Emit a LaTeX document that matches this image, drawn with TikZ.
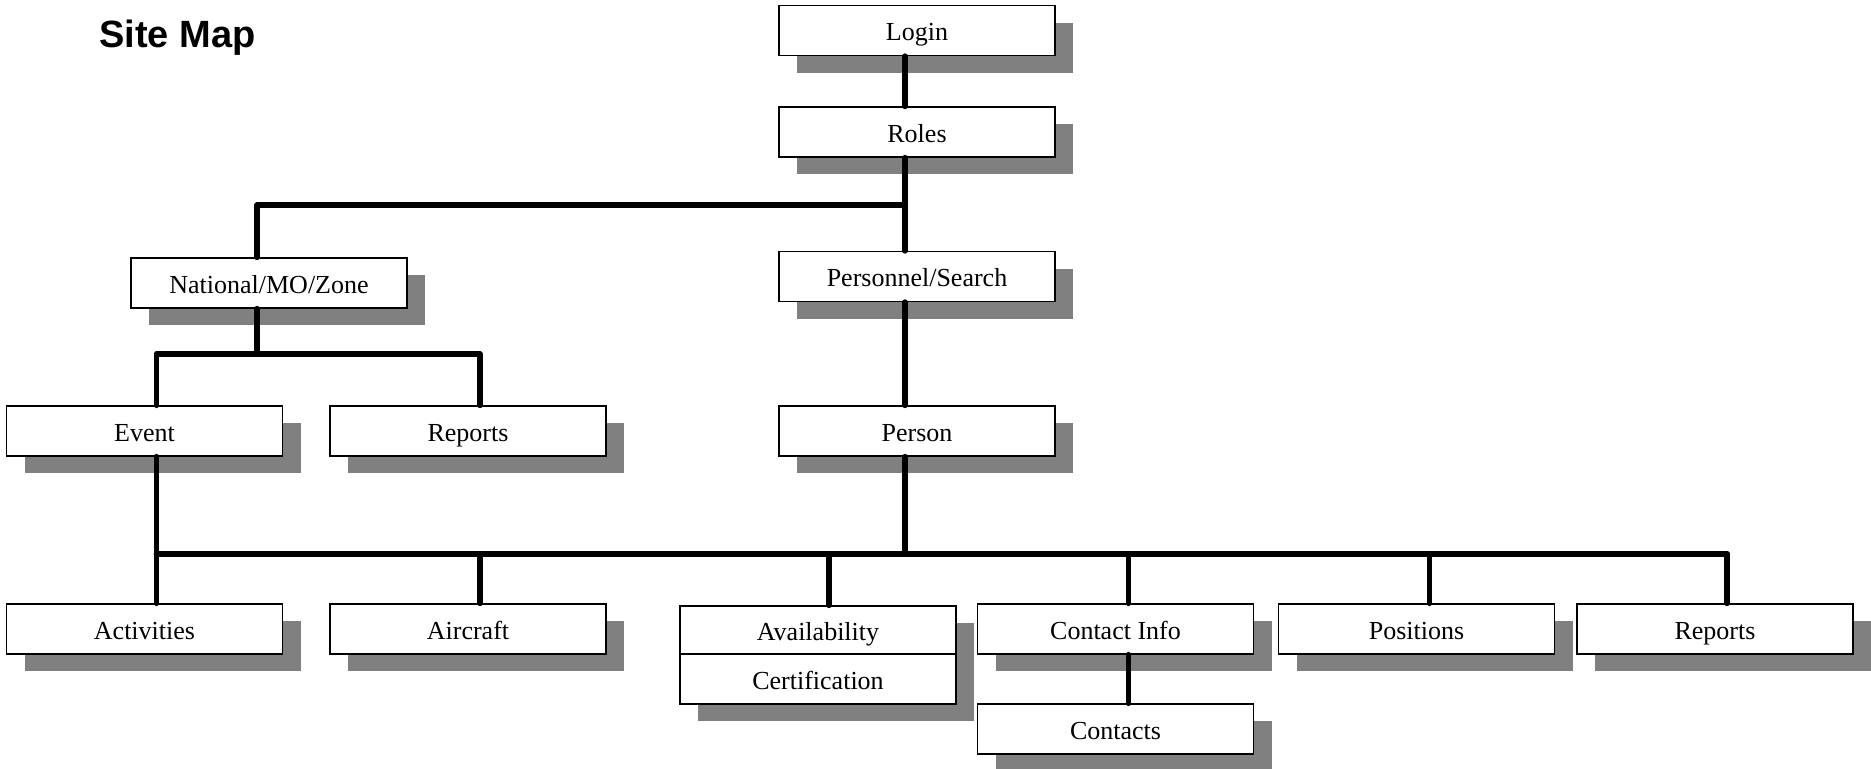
\documentclass[tikz,border=0pt]{standalone}
\usepackage{fontspec}
\setmainfont{Liberation Serif}
\newfontfamily\titlefont{Liberation Sans}
\usetikzlibrary{shadows}
\begin{document}
\begin{tikzpicture}[x=0.5pt,y=-0.5pt,
  pagebox/.style={draw=black, line width=0.75pt, fill=white,
    minimum width=138pt, minimum height=25pt, inner sep=0pt,
    text height=11.5pt, text depth=1.5pt,
    font=\fontsize{13}{15}\selectfont,
    drop shadow={shadow xshift=9pt, shadow yshift=-8.5pt, fill=black!50, opacity=1}},
  link/.style={line width=2.9pt, line cap=round, line join=round}]
\useasboundingbox (0,0) rectangle (1871,768);
\node[anchor=base west, inner sep=0pt, font=\titlefont\bfseries\fontsize{19}{22}\selectfont] (title) at (99,47) {Site Map};
% boxes
\node[pagebox] (login) at (917,30.5) {Login};
\node[pagebox] (roles) at (917,132) {Roles};
\node[pagebox] (personnel) at (917,276.5) {Personnel/Search};
\node[pagebox] (person) at (917,431) {Person};
\node[pagebox] (national) at (269,283) {National/MO/Zone};
\node[pagebox] (event) at (144.5,431) {Event};
\node[pagebox] (reportsL) at (468,431) {Reports};
\node[pagebox] (activities) at (144.5,629) {Activities};
\node[pagebox] (aircraft) at (468,629) {Aircraft};
\node[pagebox, minimum height=24pt] (availability) at (818,630) {Availability};
\node[pagebox, minimum height=25pt] (certification) at (818,679) {Certification};
\node[pagebox] (contactinfo) at (1115.5,629) {Contact Info};
\node[pagebox] (contacts) at (1115.5,729) {Contacts};
\node[pagebox] (positions) at (1416.5,629) {Positions};
\node[pagebox] (reportsR) at (1715,629) {Reports};
% junctions
\coordinate (j1) at (905,205);
\coordinate (j2) at (257,354);
\coordinate (j3) at (905,554);
% connectors
\draw[link] ([xshift=-6pt]login.south) -- ([xshift=-6pt]roles.north);
\draw[link] ([xshift=-6pt]roles.south) -- ([xshift=-6pt]personnel.north);
\draw[link] (j1) -| ([xshift=-6pt]national.north);
\draw[link] ([xshift=-6pt]personnel.south) -- ([xshift=-6pt]person.north);
\draw[link] ([xshift=-6pt]national.south) -- (j2);
\draw[link] ([xshift=6pt]event.north) |- (j2) -| ([xshift=6pt]reportsL.north);
\draw[link] ([xshift=-6pt]person.south) -- (j3);
\draw[link] ([xshift=6pt]event.south) -- ([xshift=6pt]activities.north);
\draw[link] ([xshift=6pt]activities.north |- j3) -- ([xshift=6pt]reportsR.north |- j3);
\draw[link] ([xshift=6pt]aircraft.north) -- ([xshift=6pt]aircraft.north |- j3);
\draw[link] ([xshift=5.5pt]availability.north) -- ([xshift=5.5pt]availability.north |- j3);
\draw[link] ([xshift=6.5pt]contactinfo.north) -- ([xshift=6.5pt]contactinfo.north |- j3);
\draw[link] ([xshift=6.5pt]positions.north) -- ([xshift=6.5pt]positions.north |- j3);
\draw[link] ([xshift=6pt]reportsR.north) -- ([xshift=6pt]reportsR.north |- j3);
\draw[link] ([xshift=6.5pt]contactinfo.south) -- ([xshift=6.5pt]contacts.north);
\end{tikzpicture}
\end{document}
